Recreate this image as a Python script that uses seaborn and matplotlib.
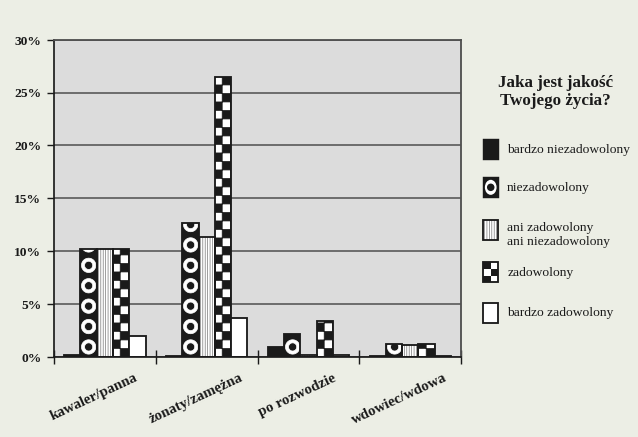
import numpy as np
import pandas as pd
import matplotlib
matplotlib.use("Agg")
import matplotlib.pyplot as plt
import matplotlib.hatch as mhatch
import matplotlib.transforms as mtransforms
from matplotlib.path import Path
from matplotlib.patches import Rectangle, Ellipse
import seaborn as sns

# ---------------- data ----------------
categories = ["kawaler/panna", "żonaty/zamężna", "po rozwodzie", "wdowiec/wdowa"]
answers = ["bardzo niezadowolony", "niezadowolony",
           "ani zadowolony\nani niezadowolony", "zadowolony", "bardzo zadowolony"]
bardzo_niezadowolony = [0.15, 0.1, 0.95, 0.1]
niezadowolony = [10.2, 12.7, 2.2, 1.2]
ani_ani = [10.2, 11.3, 0.2, 1.1]
zadowolony = [10.2, 26.5, 3.4, 1.2]
bardzo_zadowolony = [2.0, 3.7, 0.15, 0.1]
y_ticks = [0, 5, 10, 15, 20, 25, 30]
y_tick_labels = ["0%", "5%", "10%", "15%", "20%", "25%", "30%"]
legend_title = "Jaka jest jakość\nTwojego życia?"

series = [bardzo_niezadowolony, niezadowolony, ani_ani, zadowolony, bardzo_zadowolony]
df = pd.DataFrame({
    "kategoria": [c for s in series for c in categories],
    "odpowiedz": [a for a, s in zip(answers, series) for _ in s],
    "procent": [v for s in series for v in s],
})

# ---------------- custom hatch patterns ----------------
DPI = 102
W, H = 638, 437
HATCH_PHASE = {"ring": [0.0, 0.0], "check": [0.0, 0.0]}
RING_N = 5
RING_R = 7.2 / DPI
DOT_R = 4.1 / DPI
CHECK_N = 12


def _poly_circle(cx, cy, r, reverse=False, k=28):
    t = np.linspace(0, 2 * np.pi, k, endpoint=False)
    if reverse:
        t = t[::-1]
    v = np.column_stack([cx + r * np.cos(t), cy + r * np.sin(t)])
    v = np.vstack([v, v[:1]])
    c = np.full(k + 1, Path.LINETO, dtype=Path.code_type)
    c[0] = Path.MOVETO
    c[-1] = Path.CLOSEPOLY
    return v, c


class RingHatch(mhatch.HatchPatternBase):
    def __init__(self, hatch, density):
        self.num_vertices = 0
        if "O" in hatch:
            px, py = HATCH_PHASE["ring"]
            vs, cs = [], []
            for i in range(-1, RING_N + 1):
                for j in range(-1, RING_N + 1):
                    cx = (i + px) / RING_N
                    cy = (j + py) / RING_N
                    v, c = _poly_circle(cx, cy, RING_R)
                    vs.append(v); cs.append(c)
                    v, c = _poly_circle(cx, cy, DOT_R, reverse=True)
                    vs.append(v); cs.append(c)
            self._v = np.concatenate(vs)
            self._c = np.concatenate(cs)
            self.num_vertices = len(self._v)

    def set_vertices_and_codes(self, vertices, codes):
        vertices[:] = self._v
        codes[:] = self._c


class CheckerHatch(mhatch.HatchPatternBase):
    def __init__(self, hatch, density):
        self.num_vertices = 0
        if "*" in hatch:
            px, py = HATCH_PHASE["check"]
            s = 1.0 / CHECK_N
            vs, cs = [], []
            for i in range(-1, CHECK_N + 1):
                for j in range(-1, CHECK_N + 1):
                    if (i + j) % 2:
                        continue
                    x0 = (i + px) * s
                    y0 = (j + py) * s
                    vs.append([[x0, y0], [x0 + s, y0], [x0 + s, y0 + s], [x0, y0 + s], [x0, y0]])
                    cs.append([Path.MOVETO, Path.LINETO, Path.LINETO, Path.LINETO, Path.CLOSEPOLY])
            self._v = np.array(vs, dtype=float).reshape(-1, 2)
            self._c = np.array(cs, dtype=Path.code_type).ravel()
            self.num_vertices = len(self._v)

    def set_vertices_and_codes(self, vertices, codes):
        vertices[:] = self._v
        codes[:] = self._c


mhatch._hatch_types[:] = [mhatch.HorizontalHatch, mhatch.VerticalHatch, RingHatch, CheckerHatch]

# ---------------- figure ----------------
sns.set_theme(style="white")
plt.rcParams["font.family"] = ["Liberation Serif", "DejaVu Serif"]
plt.rcParams["hatch.linewidth"] = 0.5

BG = "#ECEEE5"
PLOT_BG = "#DCDCDC"
INK = "#1A1A1A"

fig = plt.figure(figsize=((W + 0.3) / DPI, (H + 0.3) / DPI), dpi=DPI, facecolor=BG)
ax = fig.add_axes([54 / W, 80 / H, 407 / W, 317 / H])
ax.set_facecolor(PLOT_BG)

sns.barplot(data=df, x="kategoria", y="procent", hue="odpowiedz",
            order=categories, hue_order=answers, width=0.8, dodge=True,
            errorbar=None, legend=False, palette=["#111111"] * 5, ax=ax)

ax.set_xlim(-0.5, len(categories) - 0.5)
ax.set_ylim(0, 30)

BAR_LW = 1.3
styles = [
    dict(fc=INK, ec=INK, hatch=None, outline=False),
    dict(fc=INK, ec="white", hatch="O", outline=True),
    dict(fc="white", ec="#7a7a7a", hatch="|||||||", outline=True),
    dict(fc="white", ec=INK, hatch="**", outline=False),
    dict(fc="white", ec=INK, hatch=None, outline=False),
]
for cont, st in zip(ax.containers, styles):
    for p in cont.patches:
        p.set_facecolor(st["fc"])
        p.set_edgecolor(st["ec"])
        p.set_hatch(st["hatch"])
        p.set_linewidth(0 if st["outline"] else BAR_LW)
        if st["outline"]:
            ax.add_patch(Rectangle((p.get_x(), p.get_y()), p.get_width(), p.get_height(),
                                   fill=False, ec=INK, lw=BAR_LW, zorder=p.get_zorder() + 0.01))

# hatch phases so patterns sit nicely in the bars
rb = ax.containers[1].patches[0]
xd, yd = ax.transData.transform((rb.get_x() + rb.get_width() / 2, 0))
HATCH_PHASE["ring"][0] = (xd * RING_N / DPI) % 1.0
HATCH_PHASE["ring"][1] = (RING_N * ((yd + 10) - H) / DPI) % 1.0
cb = ax.containers[3].patches[0]
xc, yc = ax.transData.transform((cb.get_x() + cb.get_width() / 2 - 0.01, 0))
HATCH_PHASE["check"][0] = (xc * CHECK_N / DPI) % 1.0
HATCH_PHASE["check"][1] = (CHECK_N * (yc - H) / DPI) % 1.0

# axes styling
ax.set_axisbelow(True)
ax.yaxis.grid(True, color="#505050", lw=1.1)
ax.xaxis.grid(False)
ax.set_xlabel("")
ax.set_ylabel("")
ax.set_yticks(y_ticks)
ax.set_yticklabels(y_tick_labels)
ax.tick_params(axis="y", direction="out", length=5, width=1, color=INK, pad=4,
               labelsize=9.5, labelcolor=INK, left=True)
for t in ax.get_yticklabels():
    t.set_fontweight("bold")

ax.set_xticks(range(len(categories)))
ax.set_xticklabels(categories)
ax.set_xticks([i - 0.5 for i in range(len(categories) + 1)], minor=True)
ax.tick_params(axis="x", which="major", length=0, pad=10, labelsize=10.5, labelcolor=INK)
ax.tick_params(axis="x", which="minor", direction="inout", length=10, width=1, color=INK, bottom=True)
shift = mtransforms.ScaledTranslation(-11 / DPI, 0, fig.dpi_scale_trans)
for t in ax.get_xticklabels():
    t.set_rotation(25)
    t.set_ha("center")
    t.set_fontweight("bold")
    t.set_transform(t.get_transform() + shift)

for side in ["left", "bottom"]:
    ax.spines[side].set_color(INK)
    ax.spines[side].set_linewidth(1.2)
for side in ["right", "top"]:
    ax.spines[side].set_color("#505050")
    ax.spines[side].set_linewidth(1.3)

# ---------------- legend (drawn in figure pixel coordinates) ----------------
px = mtransforms.Affine2D().scale(1 / W, -1 / H).translate(0, 1) + fig.transFigure

fig.text(555, 92, legend_title, transform=px, ha="center", va="center",
         fontsize=12, fontweight="bold", linespacing=1.2, color=INK)

sw_x, sw_w, sw_h = 483, 15, 20
entry_y = [149.5, 187.5, 230, 272.5, 313]
text_y = [149.5, 187.5, 235, 272.5, 313]


def swatch(kind, yc):
    x0, y0 = sw_x, yc - sw_h / 2
    arts = []
    if kind == 0:
        arts.append(Rectangle((x0, y0), sw_w, sw_h, fc=INK, ec=INK, lw=1))
    elif kind == 1:
        arts.append(Rectangle((x0, y0), sw_w, sw_h, fc=INK, ec=INK, lw=1))
        arts.append(Ellipse((x0 + sw_w / 2, yc), sw_w * 0.78, sw_h * 0.75, fc="white", ec="none"))
        arts.append(Ellipse((x0 + sw_w / 2, yc), sw_w * 0.5, sw_w * 0.5, fc=INK, ec="none"))
    elif kind == 2:
        arts.append(Rectangle((x0, y0), sw_w, sw_h, fc="white", ec="#7a7a7a", lw=0,
                              hatch="|||||||"))
        arts.append(Rectangle((x0, y0), sw_w, sw_h, fill=False, ec=INK, lw=1.3))
    elif kind == 3:
        arts.append(Rectangle((x0, y0), sw_w, sw_h, fc="white", ec=INK, lw=1.3))
        cw, ch = sw_w / 2, sw_h / 3
        for r in range(3):
            for c in range(2):
                if (r + c) % 2 == 0:
                    arts.append(Rectangle((x0 + c * cw, y0 + r * ch), cw, ch, fc=INK, ec="none"))
    else:
        arts.append(Rectangle((x0, y0), sw_w, sw_h, fc="white", ec=INK, lw=1.3))
    for a in arts:
        a.set_transform(px)
        fig.add_artist(a)


for k, (lab, ye, yt) in enumerate(zip(answers, entry_y, text_y)):
    swatch(k, ye)
    fig.text(507, yt, lab, transform=px, ha="left", va="center", fontsize=9.5,
             linespacing=1.15, color=INK)

fig.savefig("out.png", dpi=DPI, facecolor=BG)
